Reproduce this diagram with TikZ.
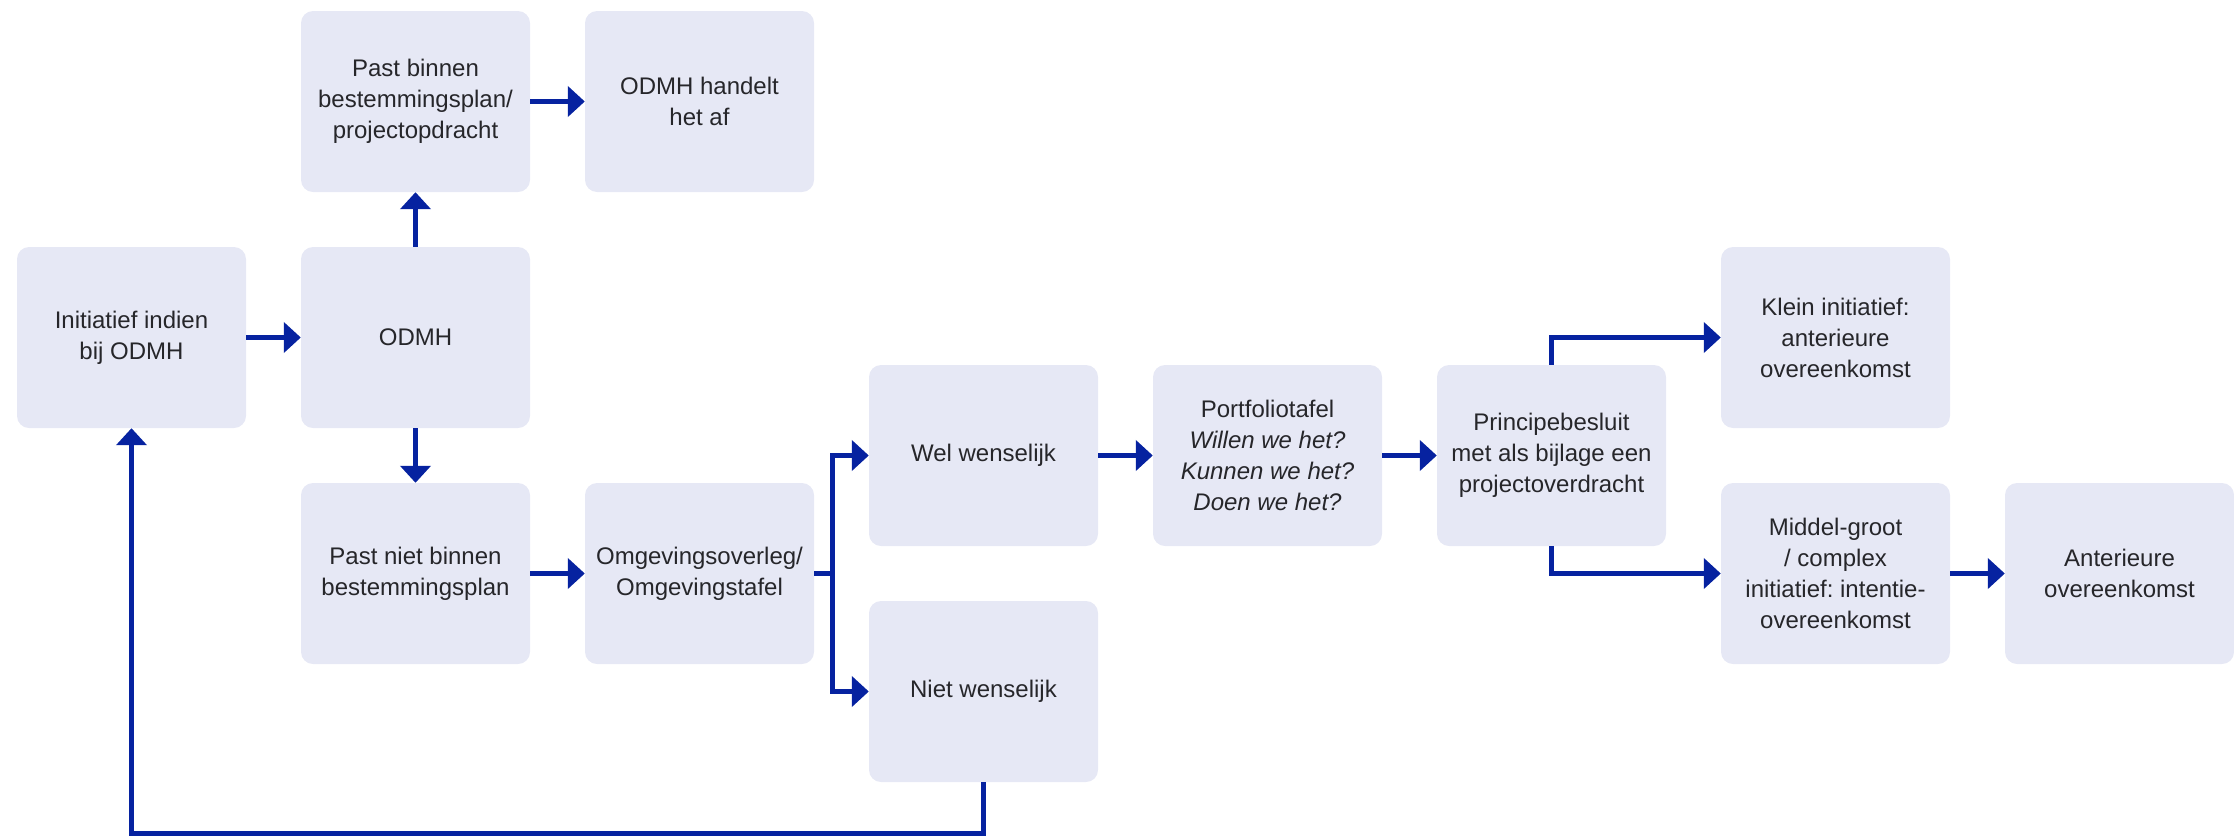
\documentclass[tikz,border=0pt]{standalone}
\usepackage{fontspec}
\setmainfont{Liberation Sans}
\usetikzlibrary{arrows.meta}
\definecolor{boxfill}{RGB}{230,232,245}
\definecolor{arrblue}{RGB}{6,34,160}
\definecolor{txt}{RGB}{38,38,42}
\tikzset{
  stepbox/.style={rectangle, rounded corners=12pt, fill=boxfill, draw=none,
    minimum width=229pt, minimum height=181pt, inner sep=0pt, align=center,
    text=txt, font=\fontsize{24pt}{31pt}\selectfont\frenchspacing},
  arr/.style={draw=arrblue, line width=5pt, -{Triangle[length=17pt,width=30pt]}}
}
\begin{document}
\begin{tikzpicture}[x=1pt,y=-1pt]
\useasboundingbox (0,0) rectangle (2234,836);
\node[stepbox] (init) at (131.5,337.5) {Initiatief indien\\bij ODMH};
\node[stepbox] (odmh) at (415.5,337.5) {ODMH};
\node[stepbox] (pastb) at (415.5,101.5) {Past binnen\\bestemmingsplan/\\projectopdracht};
\node[stepbox] (handelt) at (699.5,101.5) {ODMH handelt\\het af};
\node[stepbox] (pastn) at (415.5,573.5) {Past niet binnen\\bestemmingsplan};
\node[stepbox] (omg) at (699.5,573.5) {Omgevingsoverleg/\\Omgevingstafel};
\node[stepbox] (wel) at (983.5,455.5) {Wel wenselijk};
\node[stepbox] (niet) at (983.5,691.5) {Niet wenselijk};
\node[stepbox] (port) at (1267.5,455.5) {Portfoliotafel\\\textit{Willen we het?}\\\textit{Kunnen we het?}\\\textit{Doen we het?}};
\node[stepbox] (princ) at (1551.5,455.5) {Principebesluit\\met als bijlage een\\projectoverdracht};
\node[stepbox] (klein) at (1835.5,337.5) {Klein initiatief:\\anterieure\\overeenkomst};
\node[stepbox] (middel) at (1835.5,573.5) {Middel-groot\\/ complex\\initiatief: intentie-\\overeenkomst};
\node[stepbox] (ant) at (2119.5,573.5) {Anterieure\\overeenkomst};
\coordinate (br) at (832,573.5);
\coordinate (bot) at (0,833.5);
\draw[arr] (init) -- (odmh);
\draw[arr] (odmh) -- (pastb);
\draw[arr] (odmh) -- (pastn);
\draw[arr] (pastb) -- (handelt);
\draw[arr] (pastn) -- (omg);
\draw[arr] (omg.east) -- (br) |- (wel.west);
\draw[arr] (omg.east) -- (br) |- (niet.west);
\draw[arr] (wel) -- (port);
\draw[arr] (port) -- (princ);
\draw[arr] (princ.north) |- (klein.west);
\draw[arr] (princ.south) |- (middel.west);
\draw[arr] (middel) -- (ant);
\draw[arr] (niet.south) -- (niet.south |- bot) -| (init.south);
\end{tikzpicture}
\end{document}
